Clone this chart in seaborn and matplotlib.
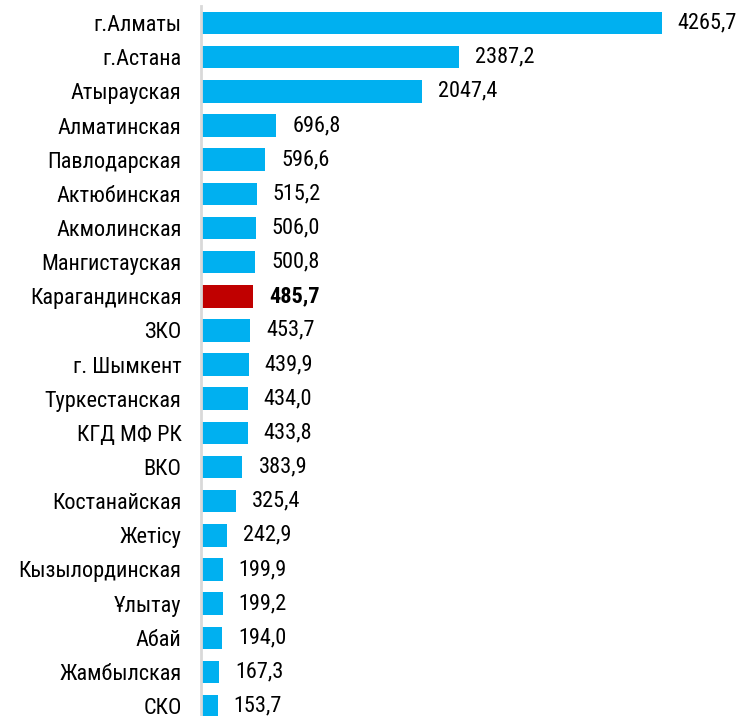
import matplotlib
matplotlib.use("Agg")
import matplotlib.pyplot as plt
import seaborn as sns
import pandas as pd

categories = ["г.Алматы", "г.Астана", "Атырауская", "Алматинская", "Павлодарская",
              "Актюбинская", "Акмолинская", "Мангистауская", "Карагандинская", "ЗКО",
              "г. Шымкент", "Туркестанская", "КГД МФ РК", "ВКО", "Костанайская",
              "Жетісу", "Кызылординская", "Ұлытау", "Абай", "Жамбылская", "СКО"]
values = [4265.7, 2387.2, 2047.4, 696.8, 596.6, 515.2, 506.0, 500.8, 485.7, 453.7,
          439.9, 434.0, 433.8, 383.9, 325.4, 242.9, 199.9, 199.2, 194.0, 167.3, 153.7]
highlight = "Карагандинская"

sns.set_style("white")
plt.rcParams['font.family'] = ['Roboto Condensed', 'DejaVu Sans']

df = pd.DataFrame({"cat": categories, "val": values})
palette = {c: ("#C00000" if c == highlight else "#00B0F0") for c in categories}

fig = plt.figure(figsize=(7.41, 7.16), dpi=100)
ax = fig.add_axes([201/741, 0, 540/741, 710/716])
sns.barplot(data=df, y="cat", x="val", hue="cat", palette=palette, order=categories,
            width=0.66, legend=False, ax=ax, saturation=1, edgecolor="none")
ax.set_xlim(0, 5000)
ax.set_ylim(20.29, -0.5)
ax.set_xlabel("")
ax.set_ylabel("")
ax.set_xticks([])
for s in ["top", "right", "bottom"]:
    ax.spines[s].set_visible(False)
ax.spines["left"].set_color("#d9d9d9")
ax.spines["left"].set_linewidth(2)
ax.tick_params(axis="y", length=0, pad=14, labelsize=16, labelcolor="black")

for i, (c, v) in enumerate(zip(categories, values)):
    txt = f"{v:.1f}".replace(".", ",")
    ax.annotate(txt, xy=(v, i), xytext=(11.5, 0), textcoords="offset points",
                ha="left", va="center", fontsize=16,
                fontweight=("bold" if c == highlight else "normal"), color="black")

fig.savefig("out.png", dpi=100)
